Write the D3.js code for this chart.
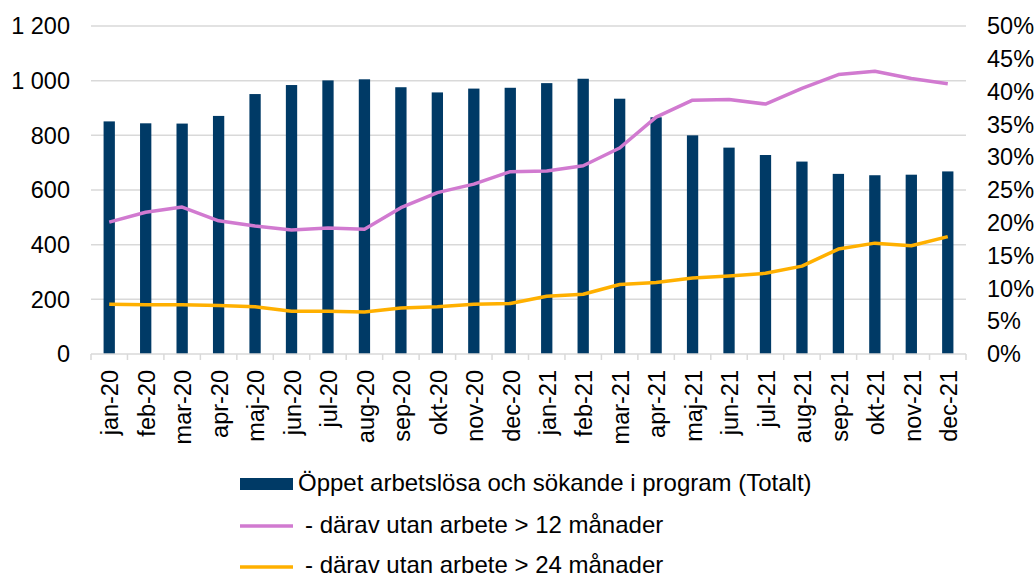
<!DOCTYPE html>
<html>
<head>
<meta charset="utf-8">
<script src="https://cdn.jsdelivr.net/npm/d3@7"></script>
<style>
  body { margin: 0; background: #fff; }
  svg text { font-family: "Liberation Sans", Arial, sans-serif; fill: #000; }
</style>
</head>
<body>
<svg id="chart" width="1036" height="577"></svg>
<script>
// months on the x axis
const months = ["jan-20", "feb-20", "mar-20", "apr-20", "maj-20", "jun-20", "jul-20", "aug-20",
  "sep-20", "okt-20", "nov-20", "dec-20", "jan-21", "feb-21", "mar-21", "apr-21", "maj-21",
  "jun-21", "jul-21", "aug-21", "sep-21", "okt-21", "nov-21", "dec-21"];

// bars, left axis
const totalt = [851, 844, 843, 871, 951, 984, 1001, 1005, 976, 957, 971, 974,
  991, 1007, 934, 866, 800, 755, 728, 704, 659, 654, 656, 668];

// lines, right axis (percent)
const over12 = [20.1, 21.6, 22.4, 20.3, 19.5, 18.9, 19.2, 19.0, 22.3, 24.6, 25.9, 27.8,
  27.9, 28.7, 31.4, 36.1, 38.7, 38.8, 38.1, 40.5, 42.6, 43.1, 42.0, 41.2];
const over24 = [7.6, 7.5, 7.5, 7.4, 7.2, 6.5, 6.5, 6.4, 7.0, 7.2, 7.6, 7.7,
  8.8, 9.1, 10.6, 10.9, 11.6, 11.9, 12.3, 13.4, 16.0, 16.9, 16.5, 17.9];

const leftTicks = [0, 200, 400, 600, 800, 1000, 1200];
const rightTicks = [0, 5, 10, 15, 20, 25, 30, 35, 40, 45, 50];

const legendLabels = ["Öppet arbetslösa och sökande i program (Totalt)",
  "- därav utan arbete > 12 månader", "- därav utan arbete > 24 månader"];

const colBar = "#003a66", colPurple = "#d17ad0", colOrange = "#ffb000", colGrid = "#d9d9d9";

const svg = d3.select("#chart");
const mLeft = 91, mRight = 966, mTop = 26, mBottom = 354;
const fs = "23.5px";

const x = d3.scaleBand().domain(months).range([mLeft, mRight]).paddingInner(0.69).paddingOuter(0.345);
const xb = d3.scaleBand().domain(months).range([mLeft, mRight]); // for tick boundaries
const y = d3.scaleLinear().domain([0, 1200]).range([mBottom, mTop]);
const y2 = d3.scaleLinear().domain([0, 50]).range([mBottom, mTop]);

// gridlines
svg.append("g")
  .selectAll("line")
  .data(leftTicks.slice(1))
  .join("line")
  .attr("x1", mLeft).attr("x2", mRight)
  .attr("y1", (d) => y(d)).attr("y2", (d) => y(d))
  .attr("stroke", colGrid).attr("stroke-width", 1.5);

// bars
svg.append("g")
  .selectAll("rect")
  .data(totalt)
  .join("rect")
  .attr("x", (d, i) => x(months[i]))
  .attr("y", (d) => y(d))
  .attr("width", x.bandwidth())
  .attr("height", (d) => y(0) - y(d))
  .attr("fill", colBar);

// x axis line + ticks at band edges
const xa = svg.append("g");
xa.append("line")
  .attr("x1", mLeft).attr("x2", mRight)
  .attr("y1", mBottom).attr("y2", mBottom)
  .attr("stroke", colGrid).attr("stroke-width", 1.5);
xa.selectAll("line.tk")
  .data(months.concat(["end"]))
  .join("line")
  .attr("class", "tk")
  .attr("x1", (d, i) => mLeft + i * xb.step())
  .attr("x2", (d, i) => mLeft + i * xb.step())
  .attr("y1", mBottom).attr("y2", mBottom + 6)
  .attr("stroke", colGrid).attr("stroke-width", 1.5);

xa.selectAll("text")
  .data(months)
  .join("text")
  .attr("transform", (d) => `translate(${xb(d) + xb.bandwidth() / 2 + 1},${mBottom + 16}) rotate(-90)`)
  .attr("text-anchor", "end")
  .attr("dy", "0.35em")
  .style("font-size", fs)
  .text((d) => d);

// left axis labels
svg.append("g")
  .selectAll("text")
  .data(leftTicks)
  .join("text")
  .attr("x", 70)
  .attr("y", (d) => y(d))
  .attr("dy", "0.35em")
  .attr("text-anchor", "end")
  .style("font-size", fs)
  .text((d) => d3.format(",")(d).replace(",", " "));

// right axis labels
svg.append("g")
  .selectAll("text")
  .data(rightTicks)
  .join("text")
  .attr("x", 987)
  .attr("y", (d) => y2(d))
  .attr("dy", "0.35em")
  .style("font-size", fs)
  .text((d) => d + "%");

// lines
const line = d3.line()
  .x((d, i) => x(months[i]) + x.bandwidth() / 2)
  .y((d) => y2(d));

svg.append("path").datum(over12)
  .attr("d", line).attr("fill", "none")
  .attr("stroke", colPurple).attr("stroke-width", 3.5).attr("stroke-linejoin", "round");
svg.append("path").datum(over24)
  .attr("d", line).attr("fill", "none")
  .attr("stroke", colOrange).attr("stroke-width", 3.5).attr("stroke-linejoin", "round");

// legend
const lg = svg.append("g");
lg.append("rect").attr("x", 240).attr("y", 478).attr("width", 53).attr("height", 12).attr("fill", colBar);
lg.append("line").attr("x1", 240).attr("x2", 293).attr("y1", 526).attr("y2", 526)
  .attr("stroke", colPurple).attr("stroke-width", 3.5);
lg.append("line").attr("x1", 240).attr("x2", 293).attr("y1", 567).attr("y2", 567)
  .attr("stroke", colOrange).attr("stroke-width", 3.5);

lg.selectAll("text")
  .data(legendLabels)
  .join("text")
  .attr("x", (d, i) => (i === 0 ? 298 : 305))
  .attr("y", (d, i) => [491, 533, 573][i])
  .style("font-size", "24px")
  .text((d) => d);
</script>
</body>
</html>
